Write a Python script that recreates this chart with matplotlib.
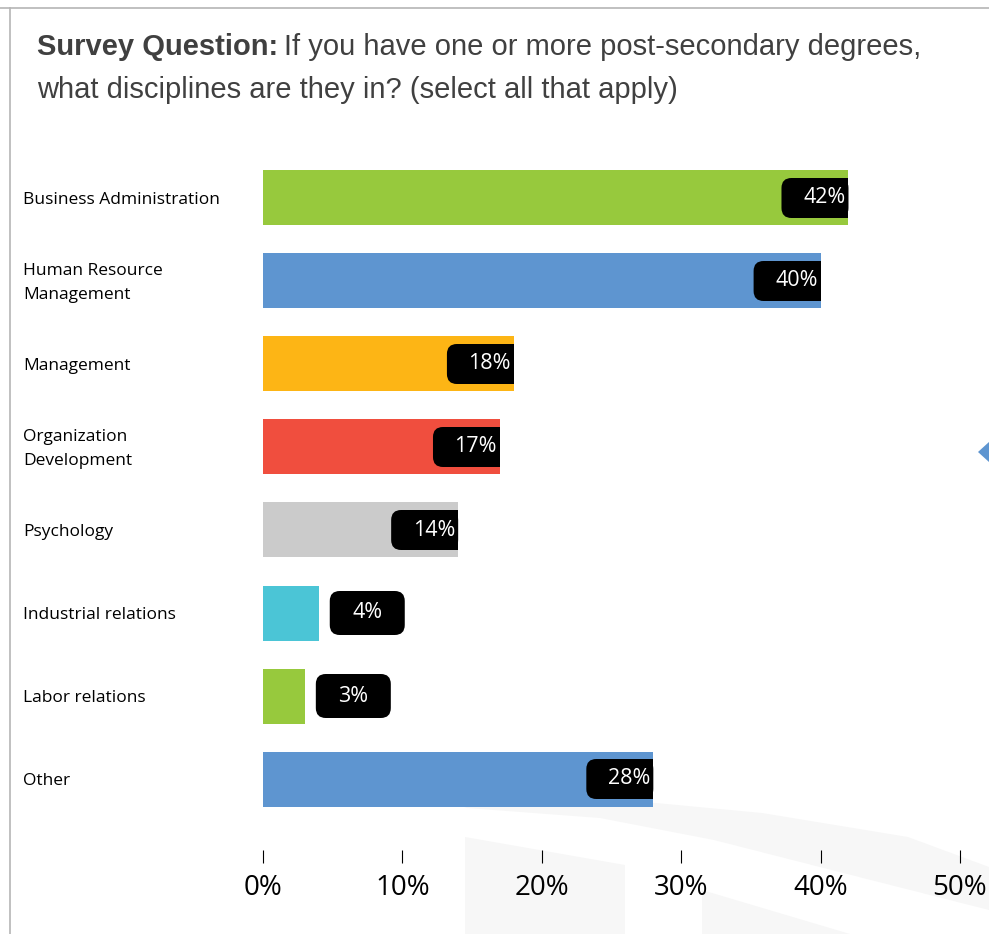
import numpy as np
import matplotlib
matplotlib.use("Agg")
import matplotlib.pyplot as plt
from matplotlib.patches import FancyBboxPatch, Rectangle, Polygon

categories = ["Business Administration", "Human Resource\nManagement", "Management",
              "Organization\nDevelopment", "Psychology", "Industrial relations",
              "Labor relations", "Other"]
values = [42, 40, 18, 17, 14, 4, 3, 28]
colors = ["#97c93d", "#5e95d0", "#fdb515", "#f04e3e", "#cbcbcb", "#4bc5d6",
          "#97c93d", "#5e95d0"]
xticks = [0, 10, 20, 30, 40, 50]

W, H = 989, 934
fig = plt.figure(figsize=(W / 100, H / 100), dpi=100)
fig.patch.set_facecolor("white")

def fx(px):
    return px / W

def fy(py):
    return 1 - py / H

# faint watermark shapes behind the chart
bg = fig.add_axes([0, 0, 1, 1], zorder=0)
bg.set_xlim(0, W)
bg.set_ylim(H, 0)
bg.axis("off")
arc_top = [(462, 806), (560, 800), (656, 803), (762, 813), (908, 837), (989, 867)]
arc_bot = [(989, 910), (859, 877), (714, 840), (600, 818), (467, 808)]
bg.add_patch(Polygon(arc_top + arc_bot, closed=True, color="#f7f7f7", lw=0))
bg.add_patch(Polygon([(465, 837), (625, 865), (625, 934), (465, 934)], closed=True,
                     color="#f7f7f7", lw=0))
bg.add_patch(Polygon([(702, 890), (850, 934), (702, 934)], closed=True,
                     color="#f7f7f7", lw=0))
# frame lines
bg.plot([10, 10], [8, H], color="#b5b5b5", lw=1.2)
bg.plot([0, W], [8, 8], color="#b5b5b5", lw=1.2)
# small arrow at the right edge
bg.add_patch(Polygon([(978, 452), (989, 442), (989, 462)], closed=True,
                     color="#5e95d0", lw=0))

# title
title_kw = dict(fontsize=21, family="Liberation Sans", color="#404040",
                va="center", ha="left")
t1 = fig.text(fx(37), fy(47), "Survey Question:", fontweight="bold", **title_kw)
fig.canvas.draw()
bb = t1.get_window_extent()
fig.text(bb.x1 / W + fx(6), fy(47), "If you have one or more post-secondary degrees,",
         **title_kw)
fig.text(fx(37), fy(90), "what disciplines are they in? (select all that apply)",
         **title_kw)

# bar chart area: x from 0% at 263px to 50% at 960px, 83px per row
top_px, row_px = 156.5, 83
n = len(categories)
ax = fig.add_axes([fx(263), fy(top_px + n * row_px), fx(960 - 263), (n * row_px) / H],
                  zorder=1)
ax.patch.set_alpha(0)
ax.set_xlim(0, 50)
ax.set_ylim(n - 0.5, -0.5)

y = np.arange(n)
ax.barh(y, values, height=55 / row_px, color=colors, zorder=2)

xpx = 50 / 697
ypx = 1 / row_px
rnd = 10 * xpx
for i, v in enumerate(values):
    label = f"{v}%"
    if v >= 10:
        bw, bh = 67 * xpx, 40 * ypx
        x0 = v - bw
        ax.add_patch(FancyBboxPatch((x0, i - bh / 2), bw, bh,
                                    boxstyle=f"round,pad=0,rounding_size={rnd}",
                                    mutation_aspect=(ypx / xpx),
                                    fc="black", ec="none", zorder=3))
        ax.add_patch(Rectangle((v - 14 * xpx, i - bh / 2), 14 * xpx, bh,
                               fc="black", ec="none", zorder=3))
        ax.text(v - 3 * xpx, i, label, color="white", fontsize=15.5,
                family="Open Sans", ha="right", va="center", zorder=4)
    else:
        bw, bh = 75 * xpx, 44 * ypx
        x0 = v + 11 * xpx
        ax.add_patch(FancyBboxPatch((x0, i - bh / 2), bw, bh,
                                    boxstyle=f"round,pad=0,rounding_size={rnd}",
                                    mutation_aspect=(ypx / xpx),
                                    fc="black", ec="none", zorder=3))
        ax.text(x0 + bw / 2, i, label, color="white", fontsize=15.5,
                family="Open Sans", ha="center", va="center", zorder=4)

# category labels
for i, c in enumerate(categories):
    fig.text(fx(23), fy(top_px + (i + 0.5) * row_px + 2), c, fontsize=12.5,
             family="Open Sans", color="black", ha="left", va="center",
             linespacing=1.7)

for s in ["top", "right", "left"]:
    ax.spines[s].set_visible(False)
ax.spines["bottom"].set_position(("outward", 21))
ax.spines["bottom"].set_color("none")
ax.set_yticks([])
ax.set_xticks(xticks)
ax.set_xticklabels([f"{t}%" for t in xticks])
ax.tick_params(axis="x", length=9.4, width=0.8, color="black", pad=8,
               labelsize=20, labelcolor="black", labelfontfamily="Open Sans")

fig.savefig("out.png", dpi=100)
